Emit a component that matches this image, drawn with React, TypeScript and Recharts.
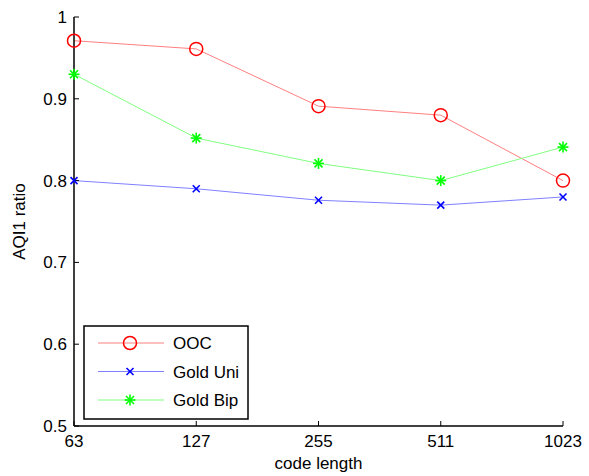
import { LineChart, Line, XAxis, YAxis, Label } from "recharts";

// x categories (code length)
const codeLengths = ["63", "127", "255", "511", "1023"];
// AQI1 ratio per series
const oocRatio = [0.971, 0.961, 0.891, 0.88, 0.8];
const goldUniRatio = [0.8, 0.79, 0.776, 0.77, 0.78];
const goldBipRatio = [0.93, 0.852, 0.821, 0.8, 0.841];
const yTicks = [0.5, 0.6, 0.7, 0.8, 0.9, 1];

const data = codeLengths.map((len, i) => ({
    len,
    ooc: oocRatio[i],
    uni: goldUniRatio[i],
    bip: goldBipRatio[i],
}));

const FONT = "'Liberation Sans', Arial, sans-serif";
const AXIS = "#000";

// matlab style markers
const Circle = ({ cx, cy }: any) => (
    <circle cx={cx} cy={cy} r={6.5} fill="none" stroke="#ff0000" strokeWidth={1.5} />
);

const Cross = ({ cx, cy }: any) => (
    <g stroke="#0000ff" strokeWidth={1.6}>
        <line x1={cx - 3.5} y1={cy - 3.5} x2={cx + 3.5} y2={cy + 3.5} />
        <line x1={cx - 3.5} y1={cy + 3.5} x2={cx + 3.5} y2={cy - 3.5} />
    </g>
);

const Star = ({ cx, cy }: any) => (
    <g stroke="#00ff00" strokeWidth={1.6}>
        <line x1={cx - 5.5} y1={cy} x2={cx + 5.5} y2={cy} />
        <line x1={cx} y1={cy - 5.5} x2={cx} y2={cy + 5.5} />
        <line x1={cx - 4} y1={cy - 4} x2={cx + 4} y2={cy + 4} />
        <line x1={cx - 4} y1={cy + 4} x2={cx + 4} y2={cy - 4} />
    </g>
);

const SERIES = [
    { key: "ooc", name: "OOC", line: "#ff8080", Dot: Circle },
    { key: "uni", name: "Gold Uni", line: "#8080ff", Dot: Cross },
    { key: "bip", name: "Gold Bip", line: "#80ff80", Dot: Star },
];

const LegendBox = () => (
    <svg
        width={166}
        height={95}
        style={{ position: "absolute", left: 83, top: 325 }}
    >
        <rect x={1} y={1} width={164} height={93} fill="#fff" stroke="#000" strokeWidth={1.5} />
        {SERIES.map((s, i) => {
            const y = 18 + i * 28.5;
            return (
                <g key={s.key}>
                    <line x1={15} y1={y} x2={81} y2={y} stroke={s.line} strokeWidth={1} />
                    <s.Dot cx={47} cy={y} />
                    <text
                        x={90}
                        y={y + 6}
                        fontFamily={FONT}
                        fontSize={17}
                        fill="#000"
                    >
                        {s.name}
                    </text>
                </g>
            );
        })}
    </svg>
);

export default function App() {
    const tickStyle = { fontSize: 17, fill: "#000", fontFamily: FONT };
    return (
        <div
            style={{
                position: "absolute",
                left: 0,
                top: 0,
                width: 589,
                height: 476,
                background: "#fff",
                fontFamily: FONT,
            }}
        >
            <LineChart
                width={589}
                height={476}
                data={data}
                margin={{ top: 17, right: 26, left: 14, bottom: 20 }}
            >
                <XAxis
                    xAxisId="bottom"
                    dataKey="len"
                    height={30}
                    tick={tickStyle}
                    tickSize={-5}
                    tickMargin={14}
                    axisLine={{ stroke: AXIS, strokeWidth: 1.5 }}
                    tickLine={{ stroke: AXIS }}
                >
                    <Label
                        value="code length"
                        position="bottom"
                        offset={1}
                        style={{ fontSize: 17, fill: "#000", fontFamily: FONT }}
                    />
                </XAxis>
                <XAxis
                    xAxisId="top"
                    dataKey="len"
                    orientation="top"
                    height={0}
                    tickSize={-5}
                    tickFormatter={() => ""}
                    axisLine={{ stroke: AXIS, strokeWidth: 1.5 }}
                    tickLine={{ stroke: AXIS }}
                />
                <YAxis
                    yAxisId="left"
                    width={60}
                    type="number"
                    domain={[0.5, 1]}
                    ticks={yTicks}
                    tickFormatter={(v) => String(v)}
                    tick={tickStyle}
                    tickSize={-5}
                    tickMargin={12}
                    axisLine={{ stroke: AXIS, strokeWidth: 1.5 }}
                    tickLine={{ stroke: AXIS }}
                >
                    <Label
                        value="AQI1 ratio"
                        angle={-90}
                        position="insideLeft"
                        offset={5}
                        style={{ fontSize: 17, fill: "#000", fontFamily: FONT, textAnchor: "middle" }}
                    />
                </YAxis>
                <YAxis
                    yAxisId="right"
                    orientation="right"
                    width={0}
                    type="number"
                    domain={[0.5, 1]}
                    ticks={yTicks}
                    tickSize={-5}
                    tickFormatter={() => ""}
                    axisLine={{ stroke: AXIS, strokeWidth: 1.5 }}
                    tickLine={{ stroke: AXIS }}
                />
                {SERIES.map((s) => (
                    <Line
                        key={s.key}
                        xAxisId="bottom"
                        yAxisId="left"
                        dataKey={s.key}
                        name={s.name}
                        type="linear"
                        stroke={s.line}
                        strokeWidth={1}
                        dot={(p: any) => <s.Dot key={`${s.key}-${p.index}`} cx={p.cx} cy={p.cy} />}
                        activeDot={false}
                        isAnimationActive={false}
                    />
                ))}
            </LineChart>
            <LegendBox />
        </div>
    );
}
